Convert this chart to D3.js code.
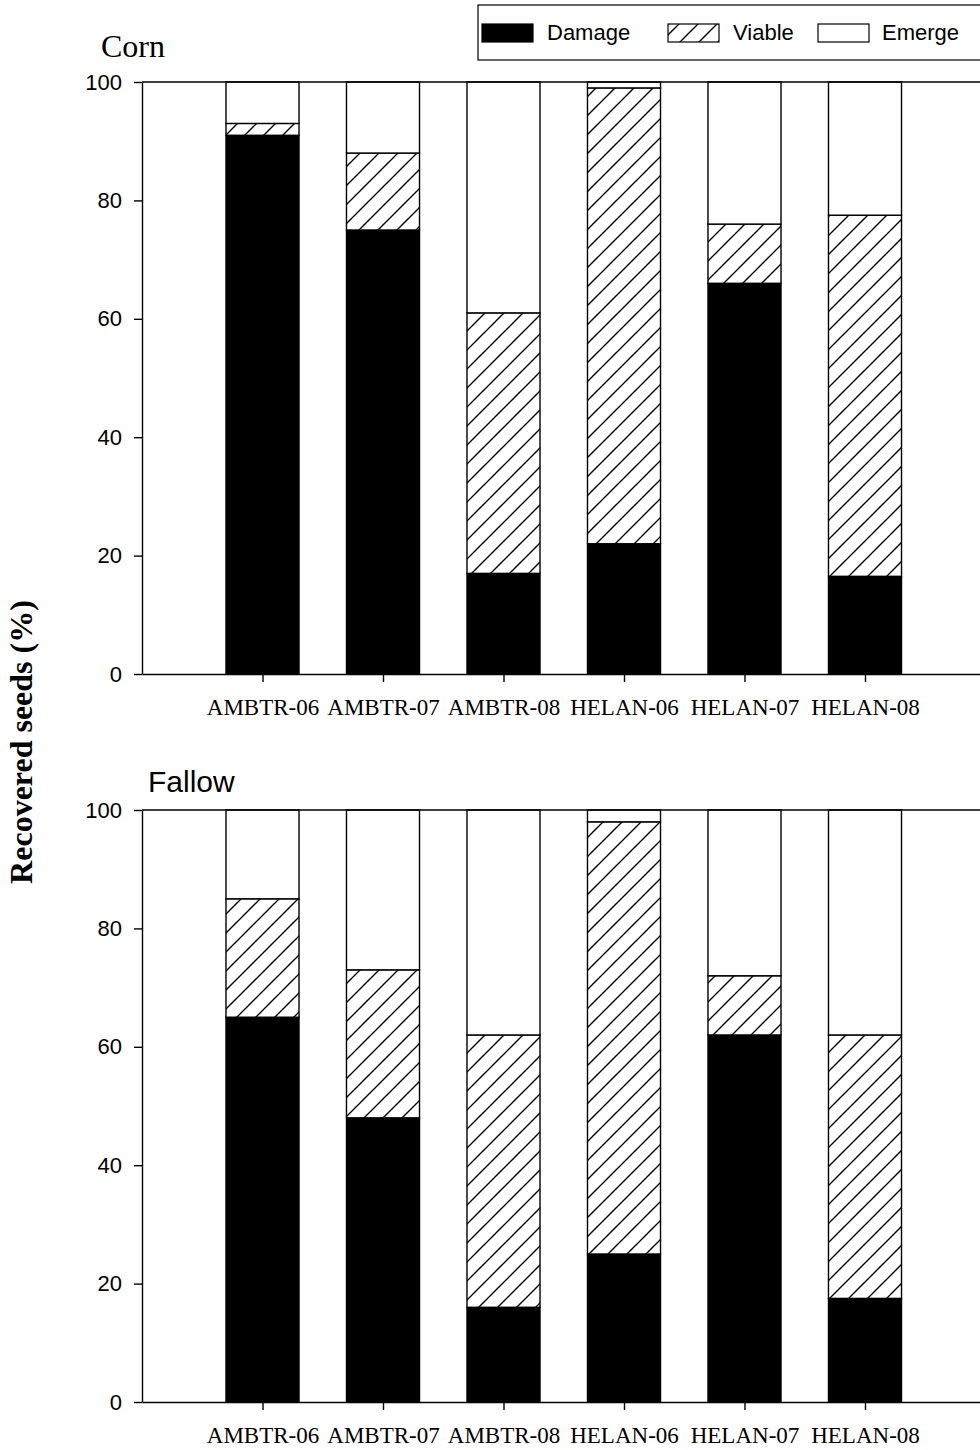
<!DOCTYPE html>
<html>
<head>
<meta charset="utf-8">
<script src="https://cdn.jsdelivr.net/npm/d3@7"></script>
<style>
  html, body { margin: 0; padding: 0; background: #fff; }
  svg { display: block; }
</style>
</head>
<body>
<div id="chart"></div>
<script>
// ---- data ----
const categories = ["AMBTR-06", "AMBTR-07", "AMBTR-08", "HELAN-06", "HELAN-07", "HELAN-08"];
const seriesNames = ["Damage", "Viable", "Emerge"];
const cornDamage   = [91, 75, 17, 22, 66, 16.5];
const cornViable   = [2, 13, 44, 77, 10, 61];
const cornEmerge   = [7, 12, 39, 1, 24, 22.5];
const fallowDamage = [65, 48, 16, 25, 62, 17.5];
const fallowViable = [20, 25, 46, 73, 10, 44.5];
const fallowEmerge = [15, 27, 38, 2, 28, 38];
const yTicks = [0, 20, 40, 60, 80, 100];
const panelTitles = ["Corn", "Fallow"];
const yAxisTitle = "Recovered seeds (%)";

// ---- setup ----
const W = 980, H = 1450;
const svg = d3.select("#chart").append("svg").attr("width", W).attr("height", H);

const serif = "'Liberation Serif','Times New Roman',Times,serif";
const sans = "'Liberation Sans',Arial,Helvetica,sans-serif";

const defs = svg.append("defs");
const pat = defs.append("pattern")
  .attr("id", "hatch").attr("patternUnits", "userSpaceOnUse")
  .attr("width", 19).attr("height", 19);
pat.append("rect").attr("width", 19).attr("height", 19).attr("fill", "#fff");
pat.append("path")
  .attr("d", "M-2,2 L2,-2 M0,19 L19,0 M17,21 L21,17")
  .attr("stroke", "#000").attr("stroke-width", 1.4);

const x = d3.scaleLinear().domain([0, 7]).range([142, 985.5]);
const barW = x(0.606) - x(0);

function buildRows(dmg, via, emg) {
  return categories.map((c, i) => ({ cat: c, idx: i + 1, Damage: dmg[i], Viable: via[i], Emerge: emg[i] }));
}

const panels = [
  { title: panelTitles[0], rows: buildRows(cornDamage, cornViable, cornEmerge), y0: 674, y1: 82,
    titleX: 101, titleY: 57, titleFont: serif, titleSize: 32 },
  { title: panelTitles[1], rows: buildRows(fallowDamage, fallowViable, fallowEmerge), y0: 1402, y1: 810,
    titleX: 148, titleY: 792, titleFont: sans, titleSize: 30 }
];

const fills = { Damage: "#000", Viable: "url(#hatch)", Emerge: "#fff" };
const stack = d3.stack().keys(seriesNames);

panels.forEach(p => {
  const y = d3.scaleLinear().domain([0, 100]).range([p.y0, p.y1]);
  const g = svg.append("g");

  // bars
  const layers = stack(p.rows);
  layers.forEach(layer => {
    g.append("g").selectAll("rect").data(layer).join("rect")
      .attr("x", d => x(d.data.idx) - barW / 2)
      .attr("width", barW)
      .attr("y", d => y(d[1]))
      .attr("height", d => y(d[0]) - y(d[1]))
      .attr("fill", fills[layer.key])
      .attr("stroke", "#000")
      .attr("stroke-width", 1.4);
  });

  // top frame line
  g.append("line")
    .attr("x1", x(0)).attr("x2", x(7))
    .attr("y1", y(100)).attr("y2", y(100))
    .attr("stroke", "#000").attr("stroke-width", 1.4);

  // y axis
  const ya = g.append("g").attr("transform", `translate(${x(0)},0)`)
    .call(d3.axisLeft(y).tickValues(yTicks).tickSize(8).tickSizeOuter(0).tickPadding(12));
  ya.selectAll("path,line").attr("stroke", "#000").attr("stroke-width", 1.4);
  ya.selectAll("text").attr("font-family", sans).attr("font-size", 22).attr("fill", "#000");

  // x axis
  const xa = g.append("g").attr("transform", `translate(0,${y(0)})`)
    .call(d3.axisBottom(x).tickValues(categories.map((c, i) => i + 1))
      .tickFormat(v => categories[v - 1]).tickSize(8).tickSizeOuter(0));
  xa.selectAll("path,line").attr("stroke", "#000").attr("stroke-width", 1.4);
  xa.selectAll("text").attr("font-family", serif).attr("font-size", 23)
    .attr("fill", "#000").attr("y", 41).attr("dy", 0);

  // panel title
  g.append("text").attr("x", p.titleX).attr("y", p.titleY)
    .attr("font-family", p.titleFont).attr("font-size", p.titleSize).attr("fill", "#000")
    .text(p.title);
});

// y axis title
svg.append("text")
  .attr("transform", "translate(32,742) rotate(-90)")
  .attr("text-anchor", "middle")
  .attr("font-family", serif).attr("font-weight", "bold").attr("font-size", 32)
  .attr("fill", "#000")
  .text(yAxisTitle);

// legend
const lg = svg.append("g");
lg.append("rect").attr("x", 478).attr("y", 5).attr("width", 560).attr("height", 55)
  .attr("fill", "#fff").attr("stroke", "#000").attr("stroke-width", 1.2);
const legendItems = [
  { key: seriesNames[0], sx: 482, tx: 547 },
  { key: seriesNames[1], sx: 668, tx: 733 },
  { key: seriesNames[2], sx: 818, tx: 882 }
];
legendItems.forEach(it => {
  lg.append("rect").attr("x", it.sx).attr("y", 24).attr("width", 51).attr("height", 18)
    .attr("fill", fills[it.key]).attr("stroke", "#000").attr("stroke-width", 1.2);
  lg.append("text").attr("x", it.tx).attr("y", 40)
    .attr("font-family", sans).attr("font-size", 22).attr("fill", "#000")
    .text(it.key);
});
</script>
</body>
</html>
